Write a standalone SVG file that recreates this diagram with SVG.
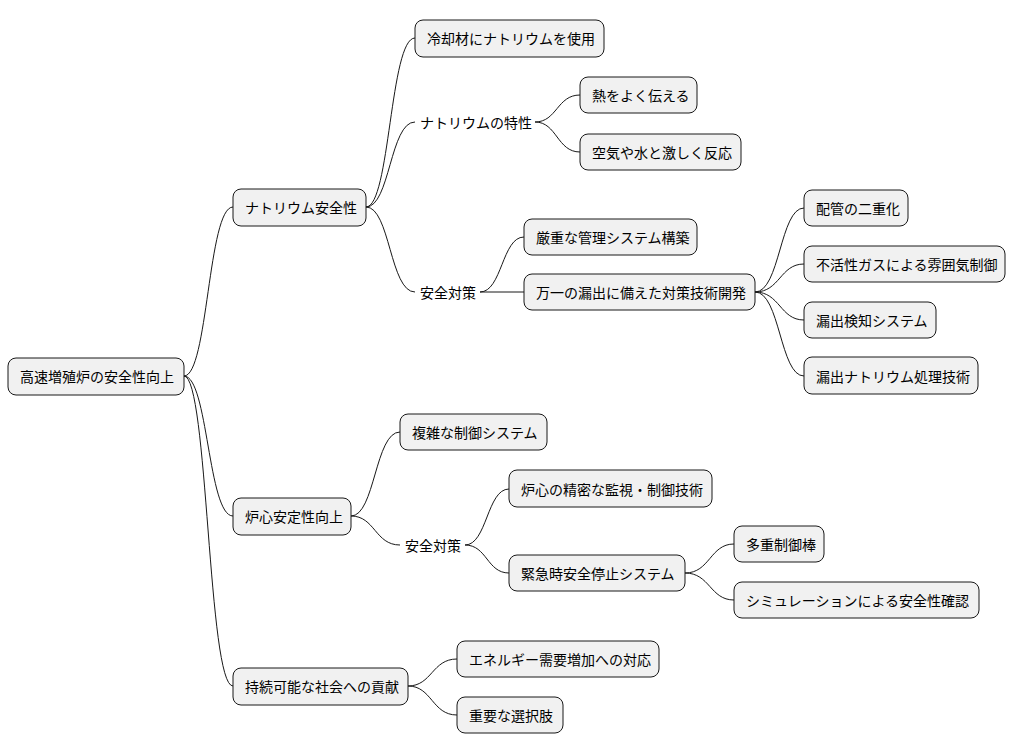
<svg xmlns="http://www.w3.org/2000/svg" width="1017" height="752" viewBox="0 0 1017 752">
<style>
.n rect{fill:#F1F1F1;stroke:#181818;stroke-width:1}
text{font-family:"Noto Sans CJK JP","Noto Sans",sans-serif;font-size:14px;fill:#000;dominant-baseline:central}
#edges path{fill:none;stroke:#181818;stroke-width:1}
</style>
<rect width="1017" height="752" fill="#fff"/>
<g id="edges">
<path d="M184,376 C208,376 208,207 233,207"/>
<path d="M184,376 C208,376 208,516 233,516"/>
<path d="M184,376 C208,376 208,686 233,686"/>
<path d="M366,207 C390,207 390,38 415,38"/>
<path d="M366,207 C390,207 390,122 415,122"/>
<path d="M366,207 C390,207 390,292 415,292"/>
<path d="M535,122 C557,122 557,95 580,95"/>
<path d="M535,122 C557,122 557,152 580,152"/>
<path d="M480,292 C502,292 502,237 524,237"/>
<path d="M480,292 L524,292"/>
<path d="M755,292 C780,292 780,208 804,208"/>
<path d="M755,292 C780,292 780,264 804,264"/>
<path d="M755,292 C780,292 780,320 804,320"/>
<path d="M755,292 C780,292 780,376 804,376"/>
<path d="M351,516 C375,516 375,432 400,432"/>
<path d="M351,516 C375,516 375,545 400,545"/>
<path d="M465,545 C487,545 487,489 509,489"/>
<path d="M465,545 C487,545 487,573 509,573"/>
<path d="M685,573 C710,573 710,544 734,544"/>
<path d="M685,573 C710,573 710,600 734,600"/>
<path d="M408,686 C432,686 432,659 457,659"/>
<path d="M408,686 C432,686 432,715 457,715"/>
</g>
<g id="root" class="n"><rect x="8" y="358" width="176" height="37" rx="8"/><text x="20" y="376">高速増殖炉の安全性向上</text></g>
<g id="n1" class="n"><rect x="233" y="189" width="133" height="37" rx="8"/><text x="245" y="207">ナトリウム安全性</text></g>
<g id="n2" class="n"><rect x="233" y="498" width="118" height="37" rx="8"/><text x="245" y="516">炉心安定性向上</text></g>
<g id="n3" class="n"><rect x="233" y="668" width="175" height="37" rx="8"/><text x="245" y="686">持続可能な社会への貢献</text></g>
<g id="n11" class="n"><rect x="415" y="20" width="189" height="37" rx="8"/><text x="427" y="38">冷却材にナトリウムを使用</text></g>
<g id="n12"><rect x="415" y="112" width="120" height="20" fill="#fff"/><text x="420" y="122">ナトリウムの特性</text></g>
<g id="n121" class="n"><rect x="580" y="77" width="117" height="36" rx="8"/><text x="592" y="95">熱をよく伝える</text></g>
<g id="n122" class="n"><rect x="580" y="134" width="161" height="36" rx="8"/><text x="592" y="152">空気や水と激しく反応</text></g>
<g id="n13"><rect x="415" y="282" width="65" height="20" fill="#fff"/><text x="420" y="292">安全対策</text></g>
<g id="n131" class="n"><rect x="524" y="219" width="173" height="36" rx="8"/><text x="536" y="237">厳重な管理システム構築</text></g>
<g id="n132" class="n"><rect x="524" y="274" width="231" height="36" rx="8"/><text x="536" y="292">万一の漏出に備えた対策技術開発</text></g>
<g id="n1321" class="n"><rect x="804" y="190" width="104" height="36" rx="8"/><text x="816" y="208">配管の二重化</text></g>
<g id="n1322" class="n"><rect x="804" y="246" width="201" height="36" rx="8"/><text x="816" y="264">不活性ガスによる雰囲気制御</text></g>
<g id="n1323" class="n"><rect x="804" y="302" width="132" height="36" rx="8"/><text x="816" y="320">漏出検知システム</text></g>
<g id="n1324" class="n"><rect x="804" y="357" width="174" height="37" rx="8"/><text x="816" y="376">漏出ナトリウム処理技術</text></g>
<g id="n21" class="n"><rect x="400" y="414" width="147" height="36" rx="8"/><text x="412" y="432">複雑な制御システム</text></g>
<g id="n22"><rect x="400" y="535" width="65" height="20" fill="#fff"/><text x="405" y="545">安全対策</text></g>
<g id="n221" class="n"><rect x="509" y="470" width="203" height="37" rx="8"/><text x="521" y="489">炉心の精密な監視・制御技術</text></g>
<g id="n222" class="n"><rect x="509" y="555" width="176" height="36" rx="8"/><text x="521" y="573">緊急時安全停止システム</text></g>
<g id="n2221" class="n"><rect x="734" y="526" width="90" height="36" rx="8"/><text x="746" y="544">多重制御棒</text></g>
<g id="n2222" class="n"><rect x="734" y="582" width="245" height="36" rx="8"/><text x="746" y="600">シミュレーションによる安全性確認</text></g>
<g id="n31" class="n"><rect x="457" y="641" width="202" height="36" rx="8"/><text x="469" y="659">エネルギー需要増加への対応</text></g>
<g id="n32" class="n"><rect x="457" y="697" width="106" height="36" rx="8"/><text x="469" y="715">重要な選択肢</text></g>
</svg>
